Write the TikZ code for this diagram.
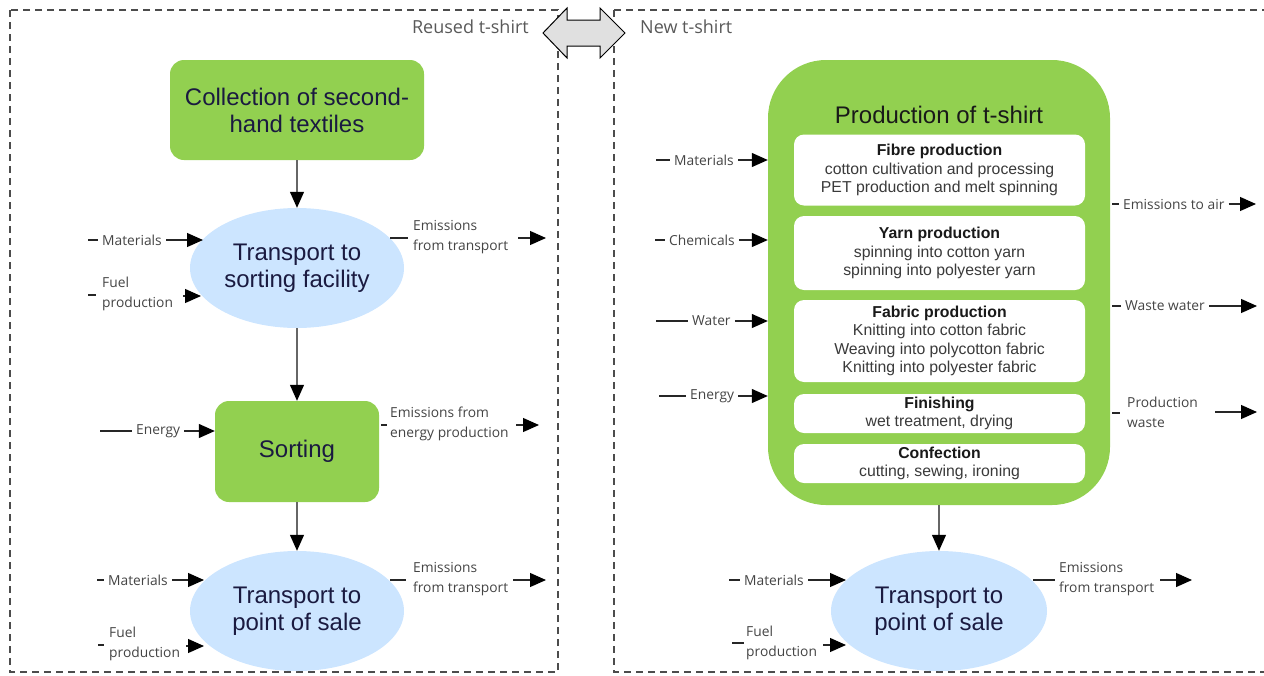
\documentclass[tikz,border=0pt]{standalone}
\usepackage{fontspec}
\setmainfont{Liberation Sans}
\newfontfamily\labfont{Open Sans}
\usetikzlibrary{arrows.meta,shapes.geometric}
\definecolor{grn}{HTML}{92D050}
\definecolor{blu}{HTML}{CCE5FF}
\definecolor{navy}{HTML}{1A1A40}
\definecolor{gtx}{HTML}{444444}
\definecolor{itx}{HTML}{3A3A3A}
\tikzset{
  lbl/.style={font=\labfont\fontsize{13.8}{20}\selectfont, text=gtx, inner sep=1pt, align=left, anchor=west},
  big/.style={font=\fontsize{24}{27}\selectfont, text=navy, align=center},
  gbox/.style={big, fill=grn, rounded corners=14pt, minimum width=254pt, minimum height=100pt, inner sep=0pt},
  sbox/.style={big, fill=grn, rounded corners=14pt, minimum width=164pt, minimum height=101pt, inner sep=0pt},
  ell/.style={big, ellipse, fill=blu, minimum width=214pt, minimum height=120pt, inner sep=0pt},
  inbox/.style={fill=white, rounded corners=10pt, minimum width=291pt, inner sep=0pt, align=center,
                font=\fontsize{15.8}{18.5}\selectfont, text=itx},
  ln/.style={black!85, line width=1.2pt},
  lead/.style={ln, shorten >=3pt},
  arr/.style={ln, shorten <=3pt, -{Triangle[length=16pt,width=14pt,color=black]}},
  frame/.style={draw=black!70, line width=1.3pt, dash pattern=on 7pt off 5pt},
  head/.style={font=\labfont\fontsize{18}{20}\selectfont, text=black!65, inner sep=0pt},
}
\begin{document}
\begin{tikzpicture}[x=1pt,y=-1pt]
\useasboundingbox (0,0) rectangle (1264,675);
% frames
\draw[frame] (10,10) rectangle (558,672);
\draw[frame] (614,10) -- (1272,10);
\draw[frame] (614,10) -- (614,672) -- (1272,672);
\node[head, anchor=east] (reused) at (529,27) {Reused t-shirt};
\node[head, anchor=west] (newt) at (640,27) {New t-shirt};
\draw[fill=black!12, line width=1pt] (543,33) -- (567,8) -- (567,20) -- (600,20) -- (600,8) -- (625,33)
  -- (600,58) -- (600,46) -- (567,46) -- (567,58) -- cycle;

% ---------- left column ----------
\node[gbox] (coll) at (297,110) {Collection of second-\\hand textiles};
\node[ell] (t1) at (297,268) {Transport to\\sorting facility};
\node[sbox] (sort) at (297,451.5) {Sorting};
\node[ell] (t2) at (297,611) {Transport to\\point of sale};
\draw[arr, shorten <=0pt, black!60] (coll.south) -- (t1.north);
\draw[arr, shorten <=0pt, black!60] (t1.south) -- (sort.north);
\draw[arr, shorten <=0pt, black!60] (sort.south) -- (t2.north);

% t1 inputs / outputs
\node[lbl] (m1) at (101,240) {Materials};
\coordinate (m1s) at (88,240); \coordinate (m1e) at (203,240);
\draw[lead] (m1s) -- (m1.west); \draw[arr] (m1.east) -- (m1e);
\node[lbl] (f1) at (101,294) {Fuel\\production};
\coordinate (f1s) at (88,295); \coordinate (f1d) at (96,295);
\coordinate (f1a) at (183,296); \coordinate (f1e) at (201,296);
\draw[ln] (f1s) -- (f1d); \draw[arr, shorten <=0pt] (f1a) -- (f1e);
\node[lbl] (e1) at (412,237) {Emissions\\from transport};
\coordinate (e1s) at (390,238); \coordinate (e1d) at (408,238);
\coordinate (e1a) at (518,238); \coordinate (e1e) at (546,238);
\draw[ln] (e1s) -- (e1d); \draw[arr, shorten <=0pt] (e1a) -- (e1e);

% sorting
\node[lbl] (en1) at (135,431) {Energy};
\coordinate (en1s) at (100,431);
\draw[lead] (en1s) -- (en1.west); \draw[arr] (en1.east) -- (sort.west |- en1.east);
\node[lbl] (e2) at (389,424) {Emissions from\\energy production};
\coordinate (e2s) at (381,425); \coordinate (e2d) at (387,425);
\coordinate (e2a) at (516,425); \coordinate (e2e) at (539,425);
\draw[ln] (e2s) -- (e2d); \draw[arr, shorten <=0pt] (e2a) -- (e2e);

% t2
\node[lbl] (m2) at (107,580) {Materials};
\coordinate (m2s) at (97,580); \coordinate (m2e) at (204,580);
\draw[lead] (m2s) -- (m2.west); \draw[arr] (m2.east) -- (m2e);
\node[lbl] (f2) at (108,644) {Fuel\\production};
\coordinate (f2s) at (98,645); \coordinate (f2d) at (104,645);
\coordinate (f2a) at (186,646); \coordinate (f2e) at (204,646);
\draw[ln] (f2s) -- (f2d); \draw[arr, shorten <=0pt] (f2a) -- (f2e);
\node[lbl] (e3) at (412,579) {Emissions\\from transport};
\coordinate (e3s) at (390,580); \coordinate (e3d) at (406,580);
\coordinate (e3a) at (513,580); \coordinate (e3e) at (546,580);
\draw[ln] (e3s) -- (e3d); \draw[arr, shorten <=0pt] (e3a) -- (e3e);

% ---------- right column ----------
\node[fill=grn, rounded corners=58pt, minimum width=342pt, minimum height=445pt, inner sep=0pt] (prod) at (939,282.5) {};
\node[big, text=black!90] (ptitle) at (939,115) {Production of t-shirt};
\node[inbox, minimum height=71pt] (fibre) at (939.5,170) {\textcolor{black!90}{\textbf{Fibre production}}\\cotton cultivation and processing\\PET production and melt spinning};
\node[inbox, minimum height=74pt] (yarn) at (939.5,253) {\textcolor{black!90}{\textbf{Yarn production}}\\spinning into cotton yarn\\spinning into polyester yarn};
\node[inbox, minimum height=82pt] (fabric) at (939.5,341) {\textcolor{black!90}{\textbf{Fabric production}}\\Knitting into cotton fabric\\Weaving into polycotton fabric\\Knitting into polyester fabric};
\node[inbox, minimum height=39pt] (finish) at (939.5,413.5) {\textcolor{black!90}{\textbf{Finishing}}\\wet treatment, drying};
\node[inbox, minimum height=39pt] (conf) at (939.5,463.5) {\textcolor{black!90}{\textbf{Confection}}\\cutting, sewing, ironing};

% inputs
\node[lbl] (m3) at (673,160) {Materials};
\coordinate (m3s) at (656,160);
\draw[lead] (m3s) -- (m3.west); \draw[arr] (m3.east) -- (prod.west |- m3.east);
\node[lbl] (ch) at (668,240) {Chemicals};
\coordinate (chs) at (655,240);
\draw[lead] (chs) -- (ch.west); \draw[arr] (ch.east) -- (prod.west |- ch.east);
\node[lbl] (wa) at (691,321) {Water};
\coordinate (was) at (656,321);
\draw[lead] (was) -- (wa.west); \draw[arr] (wa.east) -- (prod.west |- wa.east);
\node[lbl] (en2) at (689,396) {Energy};
\coordinate (en2s) at (659,396);
\draw[lead] (en2s) -- (en2.west); \draw[arr] (en2.east) -- (prod.west |- en2.east);

% outputs
\node[lbl] (ea) at (1122,204) {Emissions to air};
\coordinate (eas) at (1112,204); \coordinate (eae) at (1256,204);
\draw[lead] (eas) -- (ea.west); \draw[arr] (ea.east) -- (eae);
\node[lbl] (ww) at (1124,306) {Waste water};
\coordinate (wws) at (1112,306); \coordinate (wwe) at (1257,306);
\draw[lead] (wws) -- (ww.west); \draw[arr] (ww.east) -- (wwe);
\node[lbl] (pw) at (1126,412) {Production\\waste};
\coordinate (pws) at (1112,413); \coordinate (pwd) at (1120,413);
\coordinate (pwa) at (1215,412); \coordinate (pwe) at (1257,412);
\draw[ln] (pws) -- (pwd); \draw[arr, shorten <=0pt] (pwa) -- (pwe);

% t3
\node[ell, minimum width=216pt] (t3) at (939,611) {Transport to\\point of sale};
\draw[arr, shorten <=0pt, black!60] (prod.south) -- (t3.north);
\node[lbl] (m4) at (743,580) {Materials};
\coordinate (m4s) at (729,580); \coordinate (m4e) at (846,580);
\draw[lead] (m4s) -- (m4.west); \draw[arr] (m4.east) -- (m4e);
\node[lbl] (f4) at (745,643) {Fuel\\production};
\coordinate (f4s) at (732,643); \coordinate (f4d) at (744,643);
\coordinate (f4a) at (823,645); \coordinate (f4e) at (846,645);
\draw[ln] (f4s) -- (f4d); \draw[arr, shorten <=0pt] (f4a) -- (f4e);
\node[lbl] (e4) at (1058,579) {Emissions\\from transport};
\coordinate (e4s) at (1033,580); \coordinate (e4d) at (1055,580);
\coordinate (e4a) at (1160,580); \coordinate (e4e) at (1192,580);
\draw[ln] (e4s) -- (e4d); \draw[arr, shorten <=0pt] (e4a) -- (e4e);
\end{tikzpicture}
\end{document}
